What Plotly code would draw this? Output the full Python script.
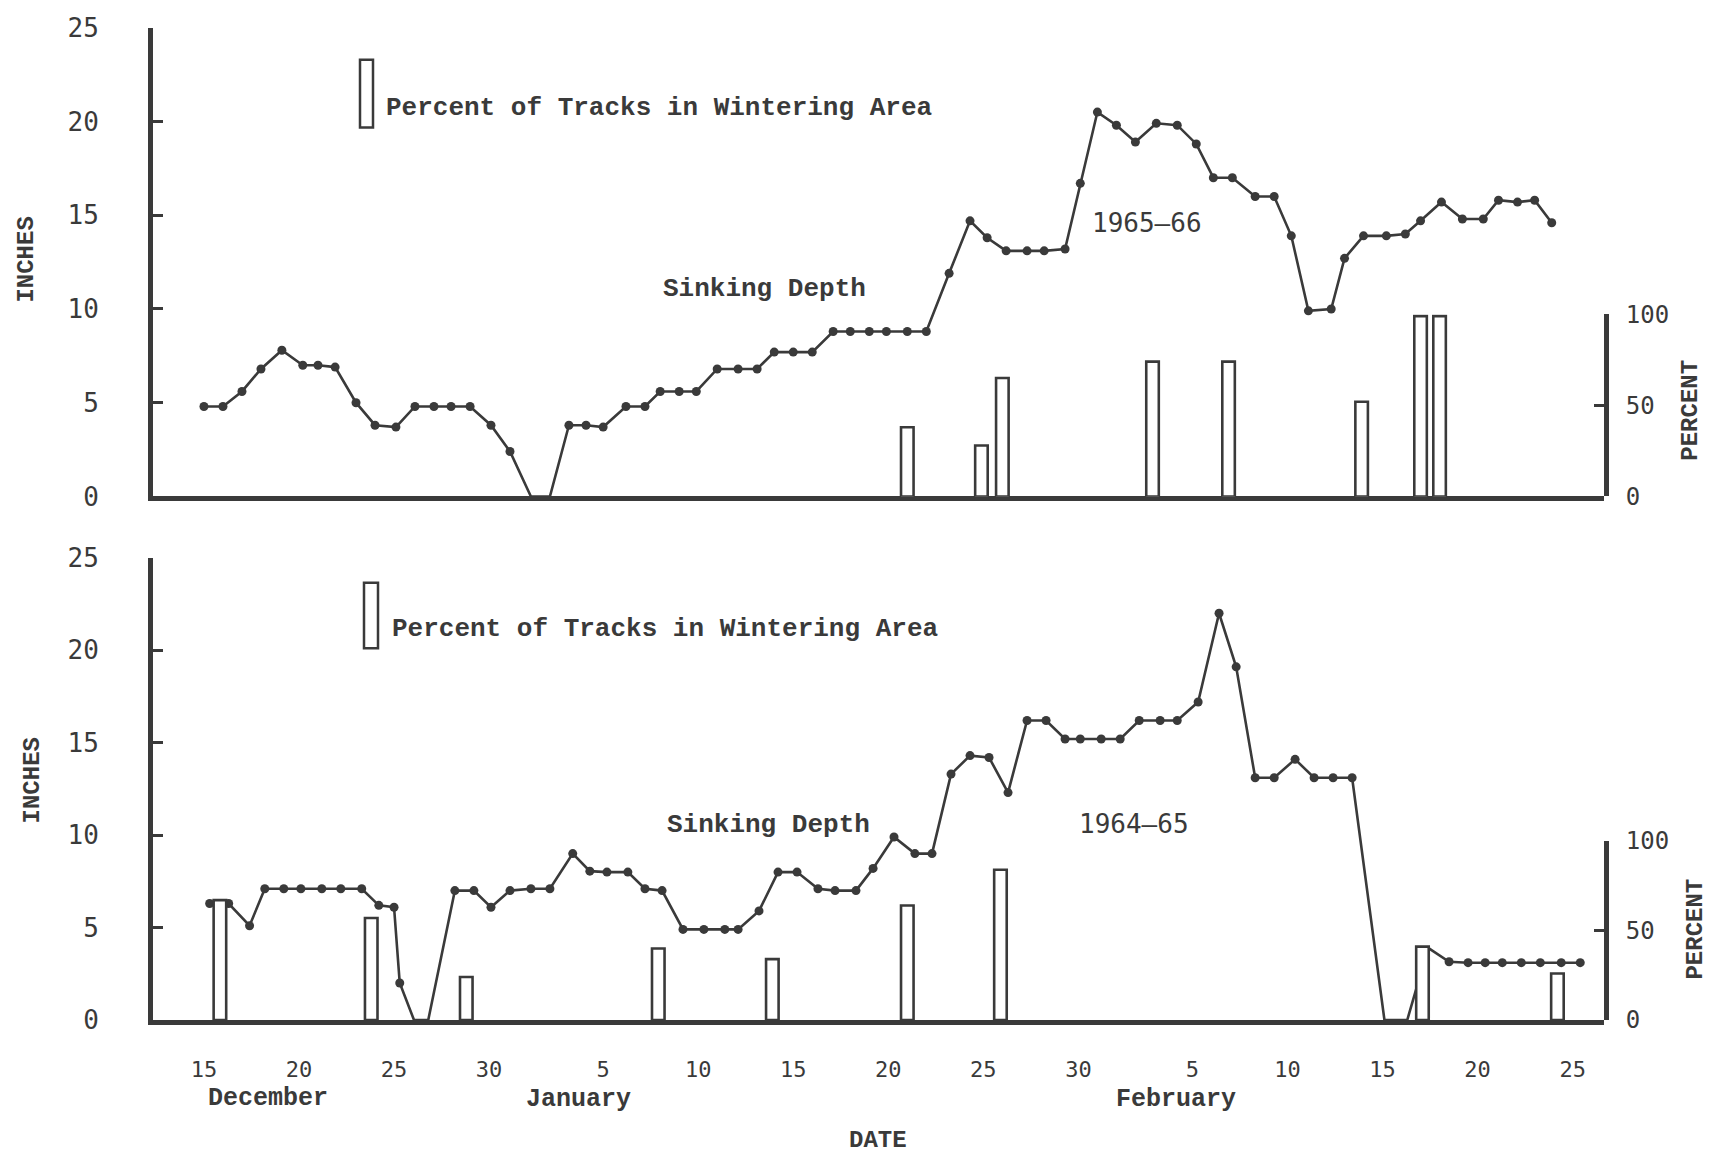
import plotly.graph_objects as go

# ---------------- data (x = days after 15 December) ----------------
# 1965-66 sinking depth (inches), dotted readings
top_days = [0.0, 1.0, 2.0, 3.0, 4.1, 5.2, 6.0, 6.9, 8.0, 9.0, 10.1, 11.1, 12.1, 13.0, 14.0, 15.1, 16.1,
            19.2, 20.1, 21.0, 22.2, 23.2, 24.0, 25.0, 25.9, 27.0, 28.1, 29.1, 30.0, 31.0, 32.0,
            33.1, 34.0, 35.0, 35.9, 37.0, 38.0, 39.2, 40.3, 41.2, 42.2, 43.3, 44.2, 45.3, 46.1,
            47.0, 48.0, 49.0, 50.1, 51.2, 52.2, 53.1, 54.1, 55.3, 56.3, 57.2, 58.1, 59.3, 60.0,
            61.0, 62.2, 63.2, 64.0, 65.1, 66.2, 67.3, 68.1, 69.1, 70.0, 70.9]
top_inches = [4.8, 4.8, 5.6, 6.8, 7.8, 7.0, 7.0, 6.9, 5.0, 3.8, 3.7, 4.8, 4.8, 4.8, 4.8, 3.8, 2.4,
              3.8, 3.8, 3.7, 4.8, 4.8, 5.6, 5.6, 5.6, 6.8, 6.8, 6.8, 7.7, 7.7, 7.7,
              8.8, 8.8, 8.8, 8.8, 8.8, 8.8, 11.9, 14.7, 13.8, 13.1, 13.1, 13.1, 13.2, 16.7,
              20.5, 19.8, 18.9, 19.9, 19.8, 18.8, 17.0, 17.0, 16.0, 16.0, 13.9, 9.9, 10.0, 12.7,
              13.9, 13.9, 14.0, 14.7, 15.7, 14.8, 14.8, 15.8, 15.7, 15.8, 14.6]
# 1965-66 undotted line vertices (depth reaching zero)
top_zero_days = [17.2, 18.2]
top_zero_inches = [0, 0]
# 1965-66 percent of tracks in wintering area
top_bar_days = [37.0, 40.9, 42.0, 49.9, 53.9, 60.9, 64.0, 65.0]
top_bar_pct = [38, 28, 65, 74, 74, 52, 99, 99]

# 1964-65 sinking depth (inches), dotted readings
bot_days = [0.3, 1.3, 2.4, 3.2, 4.2, 5.1, 6.2, 7.2, 8.3, 9.2, 10.0, 10.3,
            13.2, 14.2, 15.1, 16.1, 17.2, 18.2, 19.4, 20.3, 21.2, 22.3, 23.2, 24.1, 25.2, 26.3,
            27.4, 28.1, 29.2, 30.2, 31.2, 32.3, 33.2, 34.3, 35.2, 36.3, 37.4, 38.3, 39.3, 40.3,
            41.3, 42.3, 43.3, 44.3, 45.3, 46.1, 47.2, 48.2, 49.2, 50.3, 51.2, 52.3, 53.4, 54.3,
            55.3, 56.3, 57.4, 58.4, 59.4, 60.4,
            65.5, 66.5, 67.4, 68.3, 69.3, 70.3, 71.4, 72.4]
bot_inches = [6.3, 6.3, 5.1, 7.1, 7.1, 7.1, 7.1, 7.1, 7.1, 6.2, 6.1, 2.0,
              7.0, 7.0, 6.1, 7.0, 7.1, 7.1, 9.0, 8.05, 8.0, 8.0, 7.1, 7.0, 4.9, 4.9,
              4.9, 4.9, 5.9, 8.0, 8.0, 7.1, 7.0, 7.0, 8.2, 9.9, 9.0, 9.0, 13.3, 14.3,
              14.2, 12.3, 16.2, 16.2, 15.2, 15.2, 15.2, 15.2, 16.2, 16.2, 16.2, 17.2, 22.0, 19.1,
              13.1, 13.1, 14.1, 13.1, 13.1, 13.1,
              3.15, 3.1, 3.1, 3.1, 3.1, 3.1, 3.1, 3.1]
bot_zero_days = [11.05, 11.8, 62.1, 63.3, 64.4]
bot_zero_inches = [0, 0, 0, 0, 3.9]
bot_bar_days = [0.84, 8.8, 13.8, 23.9, 29.9, 37.0, 41.9, 64.1, 71.2]
bot_bar_pct = [67, 57, 24, 40, 34, 64, 84, 41, 26]

tick_days = [0, 5, 10, 15, 21, 26, 31, 36, 41, 46, 52, 57, 62, 67, 72]
tick_text = ["15", "20", "25", "30", "5", "10", "15", "20", "25", "30", "5", "10", "15", "20", "25"]
months = ["December", "January", "February"]

# ---------------- layout helpers ----------------
W, H = 1711, 1158
L, R, T, B = 153, 107, 21, 138
PW, PH = W - L - R, H - T - B
INK = "#3a3a3a"
WORD = "Liberation Mono"
NUM = "DejaVu Sans Mono"


def fx(px):
    return (px - L) / PW


def fy(py):
    return (H - B - py) / PH


def merged(d1, v1, d2, v2):
    pts = sorted(zip(d1 + d2, v1 + v2))
    return [p[0] for p in pts], [p[1] for p in pts]


fig = go.Figure()

tl_x, tl_y = merged(top_days, top_inches, top_zero_days, top_zero_inches)
bl_x, bl_y = merged(bot_days, bot_inches, bot_zero_days, bot_zero_inches)

line_style = dict(color=INK, width=2.6)
dot_style = dict(color=INK, size=9)
bar_style = dict(color="white", line=dict(color=INK, width=2.6))

fig.add_trace(go.Scatter(x=tl_x, y=tl_y, mode="lines", line=line_style, xaxis="x", yaxis="y"))
fig.add_trace(go.Scatter(x=top_days, y=top_inches, mode="markers", marker=dot_style, xaxis="x", yaxis="y"))
fig.add_trace(go.Scatter(x=bl_x, y=bl_y, mode="lines", line=line_style, xaxis="x2", yaxis="y2"))
fig.add_trace(go.Scatter(x=bot_days, y=bot_inches, mode="markers", marker=dot_style, xaxis="x2", yaxis="y2"))
fig.add_trace(go.Bar(x=top_bar_days, y=top_bar_pct, width=0.66, marker=bar_style, xaxis="x", yaxis="y3"))
fig.add_trace(go.Bar(x=bot_bar_days, y=bot_bar_pct, width=0.66, marker=bar_style, xaxis="x2", yaxis="y4"))

xr = [-2.68, 73.65]
common_x = dict(domain=[0, 1], range=xr, showline=True, linewidth=5, linecolor=INK,
                showgrid=False, zeroline=False, ticks="")
inch_y = dict(range=[0, 25], showline=True, linewidth=5, linecolor=INK, showgrid=False,
              zeroline=False, ticks="inside", ticklen=10, tickwidth=3, tickcolor=INK,
              tickvals=[0, 5, 10, 15, 20, 25], ticklabelstandoff=44,
              tickfont=dict(family=NUM, size=26, color=INK))
pct_y = dict(range=[0, 100], side="right", showline=True, linewidth=5, linecolor=INK,
             showgrid=False, zeroline=False, ticks="inside", ticklen=10, tickwidth=3,
             tickcolor=INK, tickvals=[0, 50, 100], ticklabelstandoff=12,
             tickfont=dict(family=NUM, size=24, color=INK))

top_dom = [fy(493.3), min(1.0, fy(21.7))]
bot_dom = [fy(1020), fy(555)]

fig.update_layout(
    width=W, height=H,
    margin=dict(l=L, r=R, t=T, b=B),
    paper_bgcolor="white", plot_bgcolor="rgba(0,0,0,0)",
    showlegend=False,
    xaxis=dict(**common_x, anchor="y", showticklabels=False),
    xaxis2=dict(**common_x, anchor="y2", tickvals=tick_days, ticktext=tick_text,
                ticklabelstandoff=26, tickfont=dict(family=NUM, size=22, color=INK)),
    yaxis=dict(**inch_y, domain=top_dom, anchor="x"),
    yaxis2=dict(**inch_y, domain=bot_dom, anchor="x2"),
    yaxis3=dict(**pct_y, domain=[fy(493.3), fy(310)], anchor="x"),
    yaxis4=dict(**pct_y, domain=[fy(1020), fy(840)], anchor="x2"),
)

word_font = dict(family=WORD, size=26, color=INK)
ann = []


def text(px, py, s, font, xanchor="center", angle=0):
    ann.append(dict(x=fx(px), y=fy(py), xref="paper", yref="paper", text=s, showarrow=False,
                    xanchor=xanchor, yanchor="middle", font=font, textangle=angle))


bold = "<b>%s</b>"
legend_label = "Percent of Tracks in Wintering Area"
text(384, 102, bold % legend_label, word_font, xanchor="left")
text(390, 627, bold % legend_label, word_font, xanchor="left")
text(764, 285, bold % "Sinking Depth", word_font)
text(768, 824, bold % "Sinking Depth", word_font)
text(1147, 218, "1965\u201366", dict(family=NUM, size=26, color=INK))
text(1134, 823, "1964\u201365", dict(family=NUM, size=26, color=INK))
axis_font = dict(family=WORD, size=24, color=INK)
text(27, 255, bold % "INCHES", axis_font, angle=-90)
text(32, 779, bold % "INCHES", axis_font, angle=-90)
text(1691, 407, bold % "PERCENT", axis_font, angle=-90)
text(1696, 929, bold % "PERCENT", axis_font, angle=-90)
month_font = dict(family=WORD, size=25, color=INK)
text(268, 1099, bold % months[0], month_font)
text(578, 1100, bold % months[1], month_font)
text(1176, 1100, bold % months[2], month_font)
text(878, 1141, bold % "DATE", dict(family=WORD, size=24, color=INK))
fig.update_layout(annotations=ann)

# legend keys (hollow bar symbol)
for x0, x1, y0, y1 in [(360, 373, 54, 122), (364, 378, 580, 646)]:
    fig.add_shape(type="rect", xref="paper", yref="paper", x0=fx(x0), x1=fx(x1), y0=fy(y1), y1=fy(y0),
                  line=dict(color=INK, width=2.5), fillcolor="white")

fig.write_html("out.html")
